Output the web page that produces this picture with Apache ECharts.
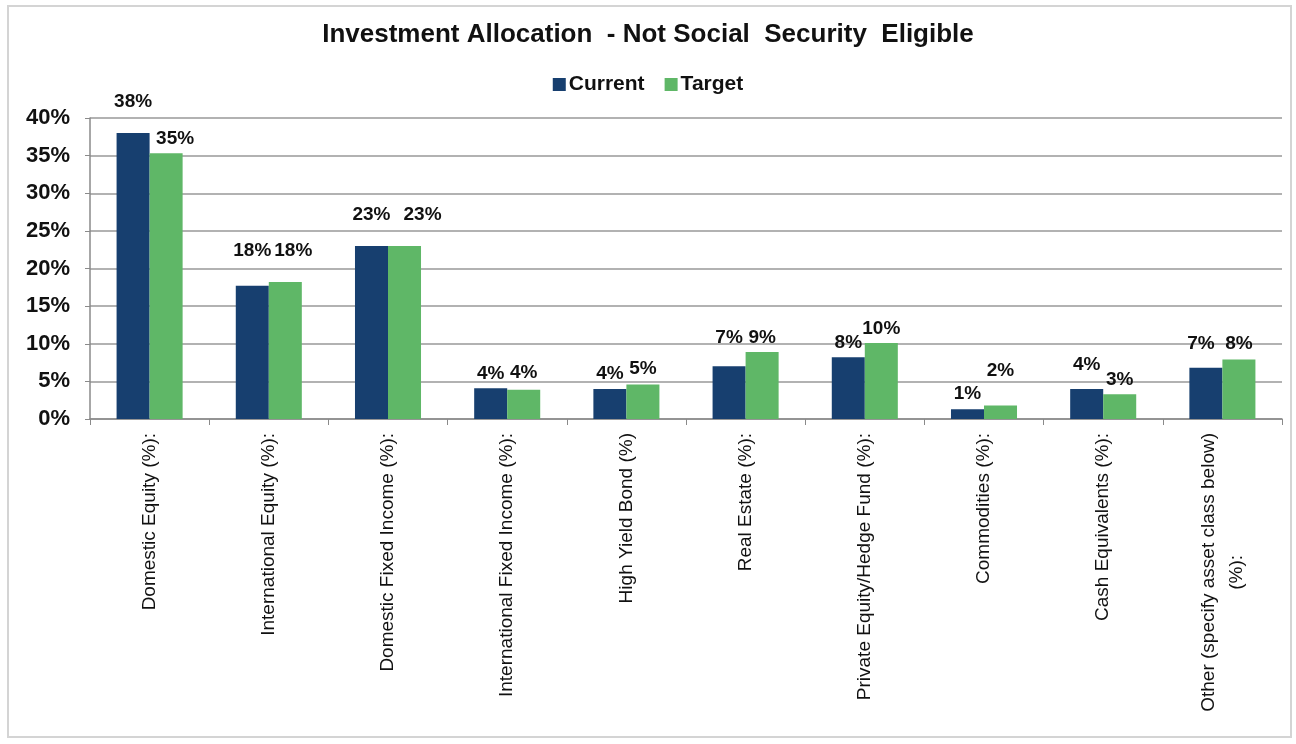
<!DOCTYPE html>
<html>
<head>
<meta charset="utf-8">
<script src="https://cdn.jsdelivr.net/npm/echarts@6/dist/echarts.min.js"></script>
<style>
  html, body { margin: 0; padding: 0; background: #fff; }
  #frame { position: absolute; left: 7px; top: 5px; width: 1281px; height: 729px; border: 2px solid #d4d4d4; }
  #chart { position: absolute; left: 0; top: 0; width: 1296px; height: 744px; }
</style>
</head>
<body>
<div id="frame"></div>
<div id="chart"></div>
<script>
// Asset classes on the x axis
const categories = [
  'Domestic Equity (%):',
  'International Equity (%):',
  'Domestic Fixed Income (%):',
  'International Fixed Income (%):',
  'High Yield Bond (%)',
  'Real Estate (%):',
  'Private Equity/Hedge Fund (%):',
  'Commodities (%):',
  'Cash Equivalents (%):',
  'Other (specify asset class below)\n(%):'
];

// Allocation shares, in percent
const currentValues = [38.0, 17.7, 23.0, 4.1, 4.0, 7.0, 8.2, 1.3, 4.0, 6.8];
const targetValues  = [35.3, 18.2, 23.0, 3.9, 4.6, 8.9, 10.1, 1.8, 3.3, 7.9];

// Y-axis ticks (percent)
const yTicks = [0, 5, 10, 15, 20, 25, 30, 35, 40];

// Hand-placed data labels: [dx, dy] nudges away from the default spot above each bar
const currentLabelNudge = [[0, -17], [0, -21], [0, -17], [0, 0], [0, -1], [0, -14], [0, 0], [0, -1], [0, -10], [-5, -10]];
const targetLabelNudge  = [[9, 0], [8, -17], [18, -17], [0, -2], [0, -1], [0, 0], [0, 0], [0, -20], [0, 0], [0, -1]];

const FONT = 'Liberation Sans, Arial, sans-serif';

function withLabels(values, nudges) {
  return values.map((v, i) => ({ value: v, label: { offset: nudges[i] } }));
}

const labelStyle = {
  show: true,
  position: 'top',
  distance: 5,
  fontFamily: FONT,
  fontWeight: 'bold',
  fontSize: 19,
  color: '#111',
  formatter: p => Math.round(p.value) + '%'
};

const chart = echarts.init(document.getElementById('chart'), null, { renderer: 'canvas' });

chart.setOption({
  animation: false,
  title: {
    text: 'Investment Allocation  - Not Social  Security  Eligible',
    left: 'center',
    top: 17,
    textStyle: { fontFamily: FONT, fontWeight: 'bold', fontSize: 26, color: '#111' }
  },
  legend: {
    top: 69,
    left: 'center',
    itemWidth: 13,
    itemHeight: 13,
    itemGap: 20,
    icon: 'rect',
    textStyle: {
      fontFamily: FONT,
      fontWeight: 'bold',
      fontSize: 21,
      color: '#111',
      padding: [0, 0, 0, -2]
    },
    data: ['Current', 'Target']
  },
  grid: { left: 90, right: 14, top: 118, bottom: 325, containLabel: false },
  xAxis: {
    type: 'category',
    data: categories,
    boundaryGap: true,
    axisLine: { show: true, lineStyle: { color: '#8a8a8a', width: 1.5 } },
    axisTick: { show: true, length: 6, lineStyle: { color: '#8a8a8a' } },
    axisLabel: {
      rotate: 90,
      interval: 0,
      margin: 14,
      fontFamily: FONT,
      fontSize: 19,
      lineHeight: 28,
      color: '#111',
      formatter: v => {
        const lines = v.split('\n');
        if (lines.length === 1) return v;
        return '{a|' + lines[0] + '}\n{c|' + lines[1] + '}';
      },
      rich: {
        a: { fontFamily: FONT, fontSize: 19, color: '#111', lineHeight: 28 },
        c: { fontFamily: FONT, fontSize: 19, color: '#111', lineHeight: 28, align: 'center' }
      }
    }
  },
  yAxis: {
    type: 'value',
    min: yTicks[0],
    max: yTicks[yTicks.length - 1],
    interval: 5,
    axisLine: { show: true, lineStyle: { color: '#8a8a8a', width: 1.5 } },
    axisTick: { show: true, length: 5, lineStyle: { color: '#8a8a8a' } },
    splitLine: { show: true, lineStyle: { color: '#999', width: 1.6 } },
    axisLabel: {
      margin: 20,
      fontFamily: FONT,
      fontWeight: 'bold',
      fontSize: 22,
      color: '#111',
      formatter: v => v + '%'
    }
  },
  series: [
    {
      name: 'Current',
      type: 'bar',
      data: withLabels(currentValues, currentLabelNudge),
      barWidth: '27.7%',
      barGap: '0%',
      itemStyle: { color: '#173f6f' },
      label: labelStyle
    },
    {
      name: 'Target',
      type: 'bar',
      data: withLabels(targetValues, targetLabelNudge),
      barWidth: '27.7%',
      itemStyle: { color: '#5fb767' },
      label: labelStyle
    }
  ]
});
</script>
</body>
</html>
